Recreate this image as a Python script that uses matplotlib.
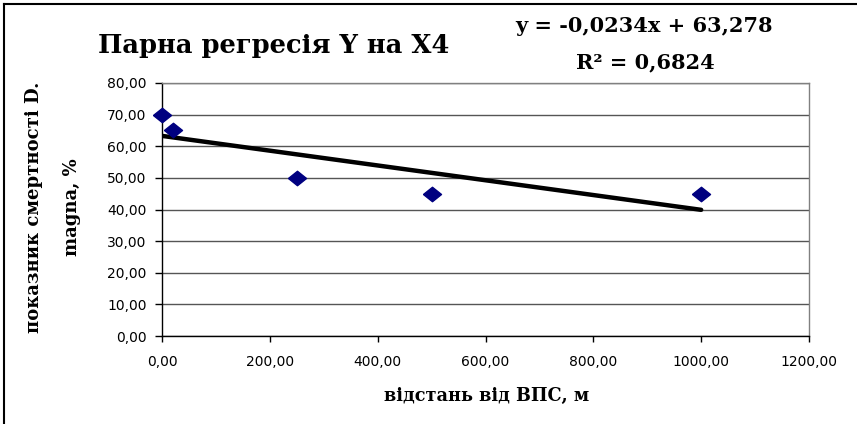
import numpy as np
import matplotlib
matplotlib.use("Agg")
import matplotlib.pyplot as plt
from matplotlib.lines import Line2D
from matplotlib.ticker import FuncFormatter, MultipleLocator

# Data
distance_m = [0, 20, 250, 500, 1000]
mortality_pct = [70, 65, 50, 45, 45]

title = "Парна регресія Y на X4"
xlabel = "відстань від ВПС, м"
ylabel = "показник смертності D.\nmagna, %"

x = np.array(distance_m, dtype=float)
y = np.array(mortality_pct, dtype=float)
slope, intercept = np.polyfit(x, y, 1)
pred = slope * x + intercept
r2 = 1 - np.sum((y - pred) ** 2) / np.sum((y - y.mean()) ** 2)

def comma(v, fmt):
    return format(v, fmt).replace(".", ",")

W, H = 857, 424
fig = plt.figure(figsize=(W / 100, H / 100), dpi=100)
ax = fig.add_axes([162 / W, 1 - 336 / H, (809 - 162) / W, (336 - 83) / H])

serif = "DejaVu Serif"

ax.set_xlim(0, 1200)
ax.set_ylim(0, 80)
ax.xaxis.set_major_locator(MultipleLocator(200))
ax.yaxis.set_major_locator(MultipleLocator(10))
ax.xaxis.set_major_formatter(FuncFormatter(lambda v, p: comma(v, ".2f")))
ax.yaxis.set_major_formatter(FuncFormatter(lambda v, p: comma(v, ".2f")))

ax.grid(axis="y", color="#555555", linewidth=1.0)
ax.set_axisbelow(True)
for side in ["top", "right"]:
    ax.spines[side].set_color("#808080")
    ax.spines[side].set_linewidth(1.0)
for side in ["left", "bottom"]:
    ax.spines[side].set_color("black")
    ax.spines[side].set_linewidth(1.0)

ax.tick_params(axis="y", direction="out", length=5, width=1, pad=6,
               labelsize=10, labelcolor="black")
ax.tick_params(axis="x", direction="out", length=4, width=1, pad=10,
               labelsize=10, labelcolor="black")
for lab in ax.get_xticklabels() + ax.get_yticklabels():
    lab.set_fontfamily("DejaVu Sans")

# trend line
xt = np.array([x.min(), x.max()])
ax.plot(xt, slope * xt + intercept, color="black", linewidth=3.2,
        solid_capstyle="round", zorder=3)

# points
diamond = [(-1.25, 0), (0, 1), (1.25, 0), (0, -1), (-1.25, 0)]
ax.plot(x, y, linestyle="none", marker=diamond, markersize=13,
        color="#000080", markeredgecolor="#000080", zorder=4, clip_on=False)

# texts
fig.text(274 / W, 1 - 46 / H, title, family=serif, weight="bold",
         fontsize=18.5, ha="center", va="center")
fig.text(644 / W, 1 - 26 / H,
         f"y = {comma(slope, '.4f')}x + {comma(intercept, '.3f')}",
         family=serif, weight="bold", fontsize=15, ha="center", va="center")
fig.text(645 / W, 1 - 62 / H, f"R² = {comma(r2, '.4f')}",
         family=serif, weight="bold", fontsize=15, ha="center", va="center")

fig.text(487 / W, 1 - 396 / H, xlabel, family=serif, weight="bold",
         fontsize=12.7, ha="center", va="center")
fig.text(53 / W, 1 - 207 / H, ylabel, family=serif, weight="bold",
         fontsize=13, ha="center", va="center", rotation=90,
         linespacing=2.4, multialignment="center")

# chart border (left and top edges visible)
fig.add_artist(Line2D([4 / W, 4 / W], [0, 1 - 4 / H], transform=fig.transFigure,
                      color="black", linewidth=1.5))
fig.add_artist(Line2D([4 / W, 1], [1 - 4 / H, 1 - 4 / H], transform=fig.transFigure,
                      color="black", linewidth=1.5))

fig.savefig("out.png", dpi=100)
